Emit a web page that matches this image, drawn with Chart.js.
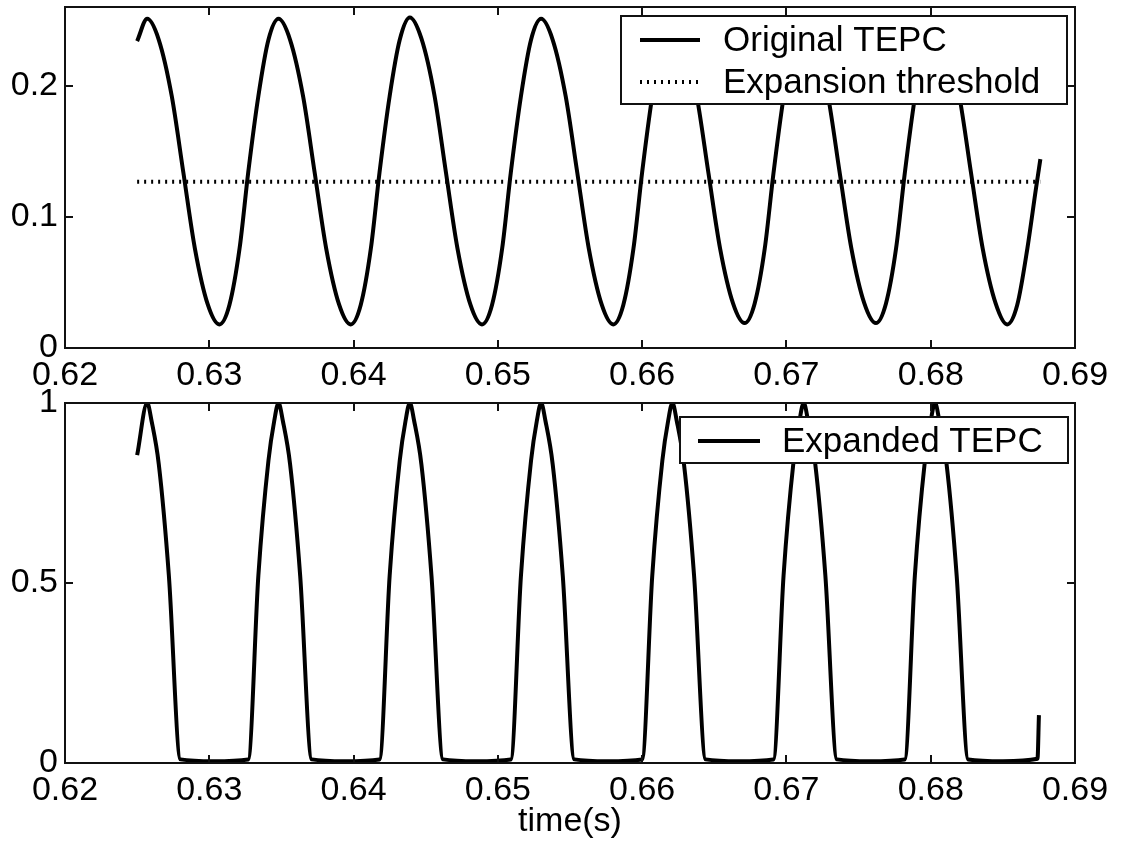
<!DOCTYPE html>
<html><head><meta charset="utf-8">
<script src="https://cdn.jsdelivr.net/npm/chart.js@4.4.1/dist/chart.umd.min.js"></script>
<style>
html,body{margin:0;padding:0;background:#fff;}
#wrap{position:relative;width:1124px;height:846px;background:#fff;}
#c1{position:absolute;left:0;top:0;}
#c2{position:absolute;left:0;top:380px;}
</style></head><body>
<div id="wrap"><canvas id="c1" width="1124" height="395"></canvas><canvas id="c2" width="1124" height="466"></canvas></div>
<script>
// ---- tick definitions ----
const xTicks = [0.62, 0.63, 0.64, 0.65, 0.66, 0.67, 0.68, 0.69];
const xTickLabels = ['0.62', '0.63', '0.64', '0.65', '0.66', '0.67', '0.68', '0.69'];
const topYTicks = [0, 0.1, 0.2];
const topYTickLabels = ['0', '0.1', '0.2'];
const bottomYTicks = [0, 0.5, 1];
const bottomYTickLabels = ['0', '0.5', '1'];

// ---- top panel: original TEPC ----
const tepcTime = [0.6250, 0.6257,
  0.6265, 0.6274, 0.6282, 0.6290, 0.6299, 0.6307, 0.6314, 0.6321, 0.6327, 0.6334, 0.6341, 0.6348,
  0.6356, 0.6365, 0.6373, 0.6381, 0.6390, 0.6398, 0.6405, 0.6412, 0.6418, 0.6425, 0.6432, 0.6439,
  0.6447, 0.6456, 0.6464, 0.6472, 0.6481, 0.6489, 0.6496, 0.6503, 0.6509, 0.6516, 0.6523, 0.6530,
  0.6538, 0.6547, 0.6555, 0.6563, 0.6572, 0.6580, 0.6587, 0.6594, 0.6600, 0.6607, 0.6614, 0.6621,
  0.6629, 0.6638, 0.6646, 0.6654, 0.6663, 0.6671, 0.6678, 0.6685, 0.6691, 0.6698, 0.6705, 0.6712,
  0.6720, 0.6729, 0.6737, 0.6745, 0.6754, 0.6762, 0.6769, 0.6776, 0.6782, 0.6789, 0.6796, 0.6803,
  0.6811, 0.6820, 0.6828, 0.6836, 0.6845, 0.6853, 0.6860, 0.6867, 0.6873, 0.6876];
const tepcValue = [0.234, 0.251,
  0.235, 0.192, 0.134, 0.076, 0.033, 0.018, 0.033, 0.076, 0.134, 0.192, 0.235, 0.251,
  0.235, 0.192, 0.134, 0.076, 0.033, 0.018, 0.033, 0.076, 0.134, 0.192, 0.235, 0.252,
  0.236, 0.193, 0.134, 0.076, 0.033, 0.018, 0.033, 0.076, 0.134, 0.192, 0.235, 0.251,
  0.235, 0.192, 0.134, 0.076, 0.033, 0.018, 0.033, 0.076, 0.134, 0.192, 0.235, 0.250,
  0.234, 0.191, 0.133, 0.076, 0.034, 0.019, 0.034, 0.076, 0.133, 0.191, 0.234, 0.250,
  0.234, 0.191, 0.133, 0.076, 0.034, 0.019, 0.034, 0.076, 0.133, 0.191, 0.234, 0.250,
  0.234, 0.191, 0.133, 0.076, 0.034, 0.018, 0.033, 0.076, 0.122, 0.144];
const thresholdTime = [0.6250, 0.6876];
const thresholdValue = [0.1267, 0.1267];

// ---- bottom panel: expanded TEPC ----
const expTime = [0.6250, 0.6257, 0.6260, 0.6265, 0.6272, 0.6280, 0.6303,
  0.6327, 0.6334, 0.6341, 0.6345, 0.6348, 0.6351, 0.6356, 0.6363, 0.6371, 0.6394,
  0.6418, 0.6425, 0.6432, 0.6436, 0.6439, 0.6442, 0.6447, 0.6454, 0.6462, 0.6485,
  0.6509, 0.6516, 0.6523, 0.6527, 0.6530, 0.6533, 0.6538, 0.6545, 0.6553, 0.6576,
  0.6600, 0.6607, 0.6614, 0.6618, 0.6621, 0.6624, 0.6629, 0.6636, 0.6644, 0.6667,
  0.6691, 0.6698, 0.6705, 0.6709, 0.6712, 0.6715, 0.6720, 0.6727, 0.6735, 0.6758,
  0.6782, 0.6789, 0.6796, 0.6800, 0.6803, 0.6806, 0.6811, 0.6818, 0.6826, 0.6850,
  0.6874, 0.6875];
const expValue = [0.855, 1, 0.95, 0.83, 0.52, 0.01, 0.005,
  0.01, 0.52, 0.84, 0.95, 1, 0.95, 0.83, 0.52, 0.01, 0.005,
  0.01, 0.52, 0.84, 0.95, 1, 0.95, 0.83, 0.52, 0.01, 0.005,
  0.01, 0.52, 0.84, 0.95, 1, 0.95, 0.83, 0.52, 0.01, 0.005,
  0.01, 0.52, 0.84, 0.95, 1, 0.95, 0.83, 0.52, 0.01, 0.005,
  0.01, 0.52, 0.84, 0.95, 1, 0.95, 0.83, 0.52, 0.01, 0.005,
  0.01, 0.52, 0.84, 0.95, 1, 0.95, 0.83, 0.52, 0.01, 0.005,
  0.012, 0.133];

const FONT = "'Liberation Sans', Arial, Helvetica, sans-serif";
Chart.defaults.font.family = FONT;
Chart.defaults.color = '#000';

const pts = (xs, ys) => xs.map((x, i) => ({x: x, y: ys[i]}));
const labelFor = (vals, labels) => (v) => {
  const i = vals.findIndex(t => Math.abs(t - v) < 1e-9);
  return i >= 0 ? labels[i] : '';
};

const framePlugin = {
  id: 'frame',
  afterDatasetsDraw(chart) {
    const {ctx, chartArea: a, scales: {x, y}} = chart;
    ctx.save();
    ctx.strokeStyle = '#111';
    ctx.lineWidth = 2;
    ctx.setLineDash([]);
    ctx.strokeRect(a.left, a.top, a.right - a.left, a.bottom - a.top);
    const L = 8;
    ctx.beginPath();
    x.ticks.forEach(t => {
      const px = Math.round(x.getPixelForValue(t.value));
      if (px <= a.left + 2 || px >= a.right - 2) return;
      ctx.moveTo(px, a.bottom); ctx.lineTo(px, a.bottom - L);
      ctx.moveTo(px, a.top); ctx.lineTo(px, a.top + L);
    });
    y.ticks.forEach(t => {
      const py = Math.round(y.getPixelForValue(t.value));
      if (py <= a.top + 2 || py >= a.bottom - 2) return;
      ctx.moveTo(a.left, py); ctx.lineTo(a.left + L, py);
      ctx.moveTo(a.right, py); ctx.lineTo(a.right - L, py);
    });
    ctx.stroke();
    ctx.restore();
  }
};

const boxLegend = {
  id: 'boxLegend',
  afterDatasetsDraw(chart, args, o) {
    const ctx = chart.ctx;
    ctx.save();
    ctx.fillStyle = '#fff';
    ctx.fillRect(o.left, o.top, o.right - o.left, o.bottom - o.top);
    ctx.strokeStyle = '#111';
    ctx.lineWidth = 2;
    ctx.setLineDash([]);
    ctx.strokeRect(o.left, o.top, o.right - o.left, o.bottom - o.top);
    chart.data.datasets.forEach((ds, i) => {
      const yy = o.rows[i];
      ctx.beginPath();
      ctx.setLineDash(ds.borderDash || []);
      ctx.lineWidth = ds.borderWidth;
      ctx.strokeStyle = ds.borderColor;
      ctx.moveTo(o.sampleStart, yy);
      ctx.lineTo(o.sampleEnd, yy);
      ctx.stroke();
      ctx.setLineDash([]);
      ctx.fillStyle = '#000';
      ctx.font = o.fontSize + 'px ' + FONT;
      ctx.textBaseline = 'middle';
      ctx.textAlign = 'left';
      ctx.fillText(ds.label, o.textX, yy + 1);
    });
    ctx.restore();
  }
};

function axisX(height, withTitle) {
  return {
    type: 'linear', min: 0.62, max: 0.69,
    afterBuildTicks: s => { s.ticks = xTicks.map(v => ({value: v})); },
    afterFit: s => { s.height = height; s.paddingLeft = 0; s.paddingRight = 0; },
    grid: {display: false, drawTicks: false},
    border: {display: false},
    ticks: {padding: 11, autoSkip: false, maxRotation: 0, color: '#000',
            font: {size: 34, lineHeight: 1}, callback: labelFor(xTicks, xTickLabels)},
    title: withTitle ? {display: true, text: 'time(s)', color: '#000',
            font: {size: 34, lineHeight: 1}, padding: {top: 0, bottom: 7}} : {display: false}
  };
}
function axisY(max, tv, tl) {
  return {
    type: 'linear', min: 0, max: max,
    afterBuildTicks: s => { s.ticks = tv.map(v => ({value: v})); },
    afterFit: s => { s.width = 65; s.paddingTop = 0; s.paddingBottom = 0; },
    grid: {display: false, drawTicks: false},
    border: {display: false},
    ticks: {padding: 7, color: '#000', font: {size: 34, lineHeight: 1}, callback: labelFor(tv, tl)}
  };
}

new Chart(document.getElementById('c1'), {
  type: 'line',
  data: {datasets: [
    {label: 'Original TEPC', data: pts(tepcTime, tepcValue), borderColor: '#000', borderWidth: 4,
     pointRadius: 0, cubicInterpolationMode: 'monotone', fill: false},
    {label: 'Expansion threshold', data: pts(thresholdTime, thresholdValue), borderColor: '#000',
     borderWidth: 4, borderDash: [2, 5], pointRadius: 0, fill: false}
  ]},
  options: {
    responsive: false, animation: false, devicePixelRatio: 1,
    layout: {padding: {top: 7, right: 49, left: 0, bottom: 0}},
    plugins: {legend: {display: false}, tooltip: {enabled: false},
      boxLegend: {left: 621, top: 16, right: 1067, bottom: 104, sampleStart: 640, sampleEnd: 700,
                  textX: 723, rows: [40, 82], fontSize: 35}},
    scales: {x: axisX(47, false), y: axisY(0.26, topYTicks, topYTickLabels)}
  },
  plugins: [framePlugin, boxLegend]
});

new Chart(document.getElementById('c2'), {
  type: 'line',
  data: {datasets: [
    {label: 'Expanded TEPC', data: pts(expTime, expValue), borderColor: '#000', borderWidth: 4,
     pointRadius: 0, cubicInterpolationMode: 'monotone', fill: false}
  ]},
  options: {
    responsive: false, animation: false, devicePixelRatio: 1,
    layout: {padding: {top: 23, right: 49, left: 0, bottom: 0}},
    plugins: {legend: {display: false}, tooltip: {enabled: false},
      boxLegend: {left: 680, top: 37, right: 1068, bottom: 83, sampleStart: 698, sampleEnd: 760,
                  textX: 782, rows: [61], fontSize: 35}},
    scales: {x: axisX(83, true), y: axisY(1, bottomYTicks, bottomYTickLabels)}
  },
  plugins: [framePlugin, boxLegend]
});
</script>
</body></html>
